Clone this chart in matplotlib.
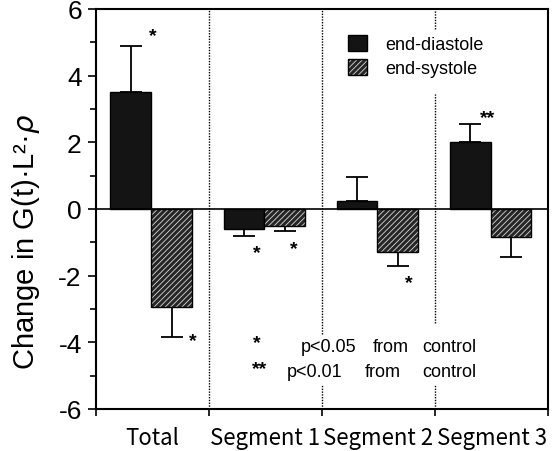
import numpy as np
import matplotlib.pyplot as plt
from matplotlib.patches import Patch

# data
groups = ["Total", "Segment 1", "Segment 2", "Segment 3"]
diastole = [3.5, -0.6, 0.25, 2.0]
diastole_tip = [4.9, -0.8, 0.95, 2.55]
systole = [-2.95, -0.5, -1.3, -0.85]
systole_tip = [-3.85, -0.65, -1.7, -1.45]
# significance marks: (x, y, text)
marks = [(0.0, 5.2, "*"), (0.36, -3.95, "*"), (0.92, -1.3, "*"),
         (1.25, -1.2, "*"), (2.27, -2.2, "*"), (2.96, 2.75, "**")]

plt.rcParams['font.family'] = ['Liberation Sans', 'DejaVu Sans']
plt.rcParams['hatch.linewidth'] = 0.6
plt.rcParams['axes.unicode_minus'] = False

fig = plt.figure(figsize=(5.6, 4.52), dpi=100)
ax = fig.add_axes([0.171, 0.093, 0.808, 0.885])

x = np.arange(len(groups))
w = 0.36
xd = x - 0.19
xs = x + 0.17

ax.bar(xd, diastole, w, color="#141414", edgecolor="black", lw=1, zorder=2)
ax.bar(xs, systole, w, color="#262626", edgecolor="#d8d8d8", hatch="//////", lw=0, zorder=2)
ax.bar(xs, systole, w, fill=False, edgecolor="black", lw=1, zorder=3)

d = np.array(diastole); dt = np.array(diastole_tip)
s = np.array(systole); st = np.array(systole_tip)
ax.errorbar(xd, d, yerr=[np.where(dt < d, d - dt, 0), np.where(dt > d, dt - d, 0)],
            fmt="none", ecolor="black", elinewidth=1.3, capsize=8, capthick=1.3, zorder=1)
ax.errorbar(xs, s, yerr=[np.where(st < s, s - st, 0), np.where(st > s, st - s, 0)],
            fmt="none", ecolor="black", elinewidth=1.3, capsize=8, capthick=1.3, zorder=1)

ax.axhline(0, color="black", lw=1.2, zorder=4)

for mx, my, t in marks:
    ax.text(mx, my, t, ha="center", va="center", fontsize=14, fontweight="bold")

# dotted separators (broken around legend and footnote)
dots = dict(color="black", lw=1, linestyle=(0, (1, 1)))
ax.vlines(0.5, -6, 6, **dots)
ax.vlines(1.5, -3.76, 6, **dots)
ax.vlines(1.5, -6, -5.26, **dots)
ax.vlines(2.5, 5.41, 6, **dots)
ax.vlines(2.5, -3.43, 3.46, **dots)
ax.vlines(2.5, -6, -5.26, **dots)

# footnote
ax.text(0.92, -4.0, "*", ha="center", va="center", fontsize=14, fontweight="bold")
ax.text(0.95, -4.78, "**", ha="center", va="center", fontsize=14, fontweight="bold")
ax.text(1.31, -4.12, "p<0.05", ha="left", va="center", fontsize=13)
ax.text(1.95, -4.12, "from", ha="left", va="center", fontsize=13)
ax.text(2.39, -4.12, "control", ha="left", va="center", fontsize=13)
ax.text(1.19, -4.87, "p<0.01", ha="left", va="center", fontsize=13)
ax.text(1.88, -4.87, "from", ha="left", va="center", fontsize=13)
ax.text(2.39, -4.87, "control", ha="left", va="center", fontsize=13)

h1 = Patch(facecolor="#141414", edgecolor="black")
h2 = (Patch(facecolor="#262626", edgecolor="#d8d8d8", hatch="//////", lw=0),
      Patch(fill=False, edgecolor="black"))
ax.legend([h1, h2], ["end-diastole", "end-systole"], loc="upper left",
          bbox_to_anchor=(0.558, 0.935), frameon=False, fontsize=13,
          borderpad=0, borderaxespad=0, handlelength=1.05, handleheight=1.0,
          handletextpad=1.0, labelspacing=0.3)

ax.set_xlim(-0.5, 3.5)
ax.set_ylim(-6, 6)
ax.set_yticks([-6, -4, -2, 0, 2, 4, 6])
ax.set_yticks([-5, -3, -1, 1, 3, 5], minor=True)
ax.set_xticks([-0.5, 0.5, 1.5, 2.5, 3.5])
ax.set_xticklabels([])
ax.set_xticks(x, groups, minor=True)
ax.tick_params(axis="x", which="major", direction="out", length=5, width=1.2)
ax.tick_params(axis="x", which="minor", length=0, pad=12, labelsize=16)
ax.tick_params(axis="y", which="major", direction="out", length=6, width=1.2, labelsize=19, pad=4)
ax.tick_params(axis="y", which="minor", direction="out", length=4, width=1.2)
for lab in ax.get_xticklabels(minor=True):
    lab.set_family(["Noto Sans CJK JP", "DejaVu Sans"])
for sp in ax.spines.values():
    sp.set_linewidth(1.5)

fig.text(0.047, 1 - 242 / 452, "Change in G(t)·L²·$\\rho$",
         rotation=90, ha="center", va="center", fontsize=21)

fig.savefig("out.png", dpi=100)
